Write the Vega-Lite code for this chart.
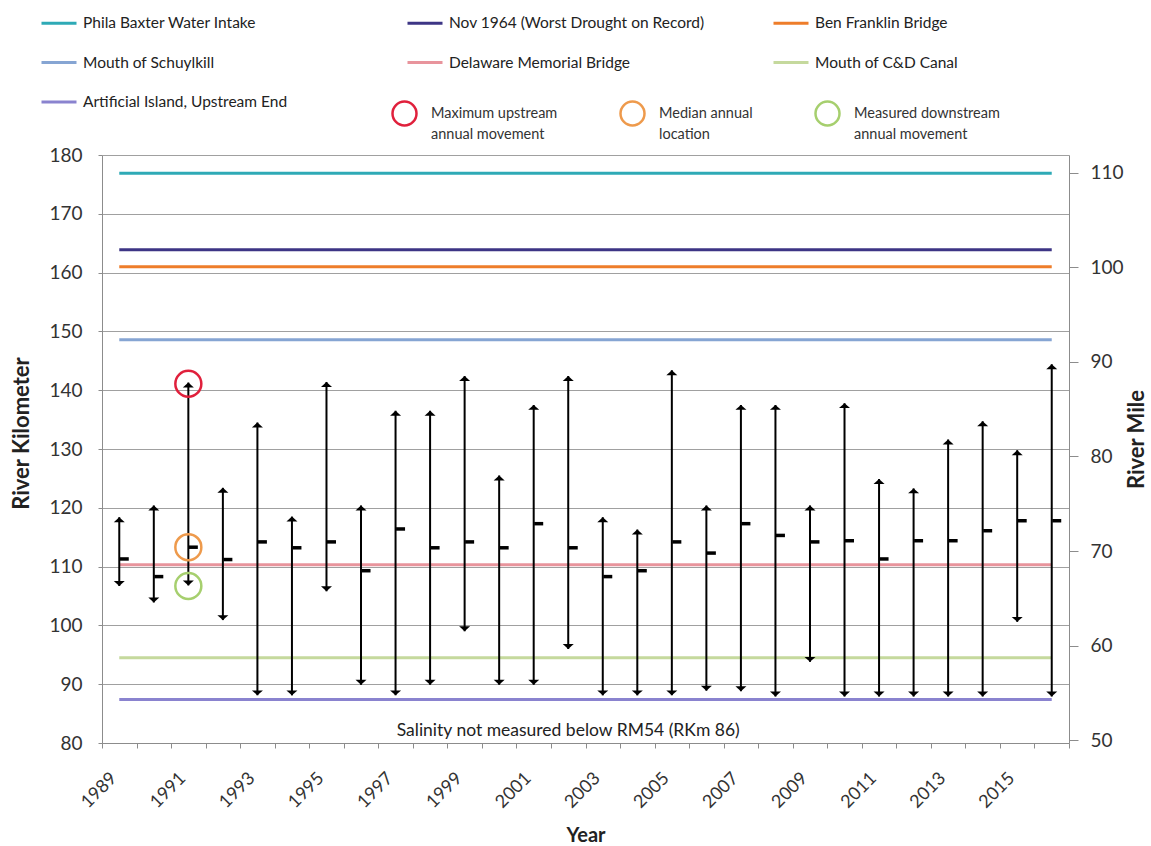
{
  "$schema": "https://vega.github.io/schema/vega-lite/v6.json",
  "width": 967,
  "height": 588,
  "autosize": {"type": "none"},
  "padding": {"left": 102, "top": 155, "right": 82, "bottom": 103},
  "background": "white",
  "config": {
    "font": "Lato",
    "view": {"stroke": null},
    "style": {"guide-label": {"lineHeight": 21}},
    "axis": {
      "labelFont": "Lato",
      "titleFont": "Lato",
      "labelColor": "#333333",
      "titleColor": "#222222",
      "domainColor": "#8c8c8c",
      "tickColor": "#8c8c8c",
      "gridColor": "#a0a0a0",
      "gridOpacity": 1
    },
    "legend": {"labelFont": "Lato"}
  },
  "datasets": {
    "ranges": [
      {"year": 1989, "min": 106.7, "median": 111.3, "max": 118.4},
      {"year": 1990, "min": 103.9, "median": 108.3, "max": 120.4},
      {"year": 1991, "min": 106.8, "median": 113.3, "max": 141.3},
      {"year": 1992, "min": 100.9, "median": 111.2, "max": 123.4},
      {"year": 1993, "min": 88.1, "median": 114.2, "max": 134.5},
      {"year": 1994, "min": 88.1, "median": 113.2, "max": 118.5},
      {"year": 1995, "min": 105.8, "median": 114.2, "max": 141.4},
      {"year": 1996, "min": 89.9, "median": 109.3, "max": 120.4},
      {"year": 1997, "min": 88.1, "median": 116.4, "max": 136.5},
      {"year": 1998, "min": 89.9, "median": 113.2, "max": 136.5},
      {"year": 1999, "min": 99.0, "median": 114.2, "max": 142.4},
      {"year": 2000, "min": 89.9, "median": 113.2, "max": 125.5},
      {"year": 2001, "min": 89.9, "median": 117.3, "max": 137.5},
      {"year": 2002, "min": 96.0, "median": 113.2, "max": 142.4},
      {"year": 2003, "min": 88.1, "median": 108.3, "max": 118.4},
      {"year": 2004, "min": 88.1, "median": 109.3, "max": 116.3},
      {"year": 2005, "min": 88.1, "median": 114.2, "max": 143.4},
      {"year": 2006, "min": 88.9, "median": 112.3, "max": 120.4},
      {"year": 2007, "min": 88.8, "median": 117.3, "max": 137.5},
      {"year": 2008, "min": 87.9, "median": 115.3, "max": 137.5},
      {"year": 2009, "min": 93.8, "median": 114.2, "max": 120.4},
      {"year": 2010, "min": 87.9, "median": 114.4, "max": 137.8},
      {"year": 2011, "min": 87.9, "median": 111.3, "max": 124.9},
      {"year": 2012, "min": 87.9, "median": 114.4, "max": 123.3},
      {"year": 2013, "min": 87.9, "median": 114.4, "max": 131.6},
      {"year": 2014, "min": 87.9, "median": 116.1, "max": 134.7},
      {"year": 2015, "min": 100.6, "median": 117.8, "max": 129.8},
      {"year": 2016, "min": 87.9, "median": 117.8, "max": 144.4}
    ],
    "refs": [
      {"name": "Phila Baxter Water Intake", "year": 1989, "km": 176.9},
      {"name": "Phila Baxter Water Intake", "year": 2016, "km": 176.9},
      {"name": "Nov 1964 (Worst Drought on Record)", "year": 1989, "km": 163.9},
      {"name": "Nov 1964 (Worst Drought on Record)", "year": 2016, "km": 163.9},
      {"name": "Ben Franklin Bridge", "year": 1989, "km": 161.0},
      {"name": "Ben Franklin Bridge", "year": 2016, "km": 161.0},
      {"name": "Mouth of Schuylkill", "year": 1989, "km": 148.6},
      {"name": "Mouth of Schuylkill", "year": 2016, "km": 148.6},
      {"name": "Delaware Memorial Bridge", "year": 1989, "km": 110.3},
      {"name": "Delaware Memorial Bridge", "year": 2016, "km": 110.3},
      {"name": "Mouth of C&D Canal", "year": 1989, "km": 94.5},
      {"name": "Mouth of C&D Canal", "year": 2016, "km": 94.5},
      {"name": "Artificial Island, Upstream End", "year": 1989, "km": 87.4},
      {"name": "Artificial Island, Upstream End", "year": 2016, "km": 87.4}
    ],
    "circles": [
      {"label": "Maximum upstream annual movement", "year": 1991, "km": 141.1},
      {"label": "Median annual location", "year": 1991, "km": 113.3},
      {"label": "Measured downstream annual movement", "year": 1991, "km": 106.7}
    ],
    "notes": [
      {"note": "Salinity not measured below RM54 (RKm 86)", "year": 2002, "km": 82.1}
    ]
  },
  "layer": [
    {
      "layer": [
        {
          "data": {"name": "refs"},
          "mark": {"type": "line", "strokeWidth": 3},
          "encoding": {
            "x": {
              "field": "year", "type": "ordinal", "title": "Year",
              "scale": {"paddingInner": 0, "paddingOuter": 0},
              "axis": {
                "labelAngle": -45,
                "labelExpr": "datum.value % 2 == 1 ? datum.label : ''",
                "tickBand": "extent",
                "grid": false,
                "labelFontSize": 18,
                "labelPadding": 21,
                "labelOffset": -12,
                "tickSize": 5,
                "titleFontSize": 20,
                "titleFontWeight": "bold",
                "titlePadding": 14
              }
            },
            "y": {
              "field": "km", "type": "quantitative", "title": "River Kilometer",
              "scale": {"domain": [80, 180], "nice": false, "zero": false},
              "axis": {
                "values": [80, 90, 100, 110, 120, 130, 140, 150, 160, 170, 180],
                "grid": true,
                "tickSize": 4,
                "labelFontSize": 19,
                "labelPadding": 16,
                "titleFontSize": 22,
                "titleFontWeight": "bold",
                "titlePadding": 15,
                "titleY": 278
              }
            },
            "color": {
              "field": "name", "type": "nominal",
              "scale": {
                "domain": ["Phila Baxter Water Intake", "Nov 1964 (Worst Drought on Record)", "Ben Franklin Bridge", "Mouth of Schuylkill", "Delaware Memorial Bridge", "Mouth of C&D Canal", "Artificial Island, Upstream End"],
                "range": ["#2eaab6", "#3d3585", "#ee7d2a", "#86a5d3", "#e8949c", "#c5d99d", "#8a83cf"]
              },
              "legend": {
                "title": null,
                "orient": "none",
                "legendX": -62,
                "legendY": -151,
                "columns": 3,
                "direction": "horizontal",
                "gridAlign": "all",
                "symbolType": "stroke",
                "symbolSize": 1225,
                "symbolStrokeWidth": 3,
                "labelFontSize": 15.5,
                "labelColor": "#222222",
                "labelOffset": 5,
                "labelLimit": 400,
                "columnPadding": 62,
                "rowPadding": 11.5
              }
            }
          }
        },
        {
          "data": {"name": "ranges"},
          "mark": {"type": "rule", "strokeWidth": 2, "color": "black"},
          "encoding": {
            "x": {"field": "year", "type": "ordinal", "title": "Year", "scale": {"paddingInner": 0, "paddingOuter": 0}},
            "y": {"field": "min", "type": "quantitative", "title": "River Kilometer", "scale": {"domain": [80, 180], "nice": false, "zero": false}},
            "y2": {"field": "max"}
          }
        },
        {
          "data": {"name": "ranges"},
          "mark": {"type": "point", "shape": "M0,0L1,0.9L-1,0.9Z", "filled": true, "color": "black", "opacity": 1, "size": 121},
          "encoding": {
            "x": {"field": "year", "type": "ordinal", "title": "Year", "scale": {"paddingInner": 0, "paddingOuter": 0}},
            "y": {"field": "max", "type": "quantitative", "title": "River Kilometer", "scale": {"domain": [80, 180], "nice": false, "zero": false}}
          }
        },
        {
          "data": {"name": "ranges"},
          "mark": {"type": "point", "shape": "M0,0L1,-0.9L-1,-0.9Z", "filled": true, "color": "black", "opacity": 1, "size": 121},
          "encoding": {
            "x": {"field": "year", "type": "ordinal", "title": "Year", "scale": {"paddingInner": 0, "paddingOuter": 0}},
            "y": {"field": "min", "type": "quantitative", "title": "River Kilometer", "scale": {"domain": [80, 180], "nice": false, "zero": false}}
          }
        },
        {
          "data": {"name": "ranges"},
          "mark": {"type": "tick", "color": "black", "size": 9, "thickness": 3.5, "xOffset": 5, "opacity": 1},
          "encoding": {
            "x": {"field": "year", "type": "ordinal", "title": "Year", "scale": {"paddingInner": 0, "paddingOuter": 0}},
            "y": {"field": "median", "type": "quantitative", "title": "River Kilometer", "scale": {"domain": [80, 180], "nice": false, "zero": false}}
          }
        },
        {
          "data": {"name": "circles"},
          "mark": {"type": "point", "shape": "circle", "filled": false, "strokeWidth": 2.5, "size": 676, "opacity": 1},
          "encoding": {
            "x": {"field": "year", "type": "ordinal", "title": "Year", "scale": {"paddingInner": 0, "paddingOuter": 0}},
            "y": {"field": "km", "type": "quantitative", "title": "River Kilometer", "scale": {"domain": [80, 180], "nice": false, "zero": false}},
            "stroke": {
              "field": "label", "type": "nominal",
              "scale": {
                "domain": ["Maximum upstream annual movement", "Median annual location", "Measured downstream annual movement"],
                "range": ["#e0203c", "#ee9a4c", "#a6cf6e"]
              },
              "legend": {
                "title": null,
                "orient": "none",
                "legendX": 289,
                "legendY": -55,
                "columns": 3,
                "direction": "horizontal",
                "gridAlign": "each",
                "symbolType": "circle",
                "symbolSize": 576,
                "symbolStrokeWidth": 2.5,
                "symbolFillColor": "transparent",
                "labelFontSize": 14.5,
                "labelColor": "#333333",
                "labelOffset": 13,
                "labelLimit": 300,
                "columnPadding": 57,
                "labelExpr": "datum.label == 'Maximum upstream annual movement' ? ['Maximum upstream', 'annual movement'] : datum.label == 'Median annual location' ? ['Median annual', 'location'] : ['Measured downstream', 'annual movement']",
                "encode": {"labels": {"update": {"lineHeight": {"value": 21}}}}
              }
            }
          }
        },
        {
          "data": {"name": "notes"},
          "mark": {"type": "text", "fontSize": 17.5, "color": "#222222", "baseline": "middle", "align": "center"},
          "encoding": {
            "x": {"field": "year", "type": "ordinal", "title": "Year", "scale": {"paddingInner": 0, "paddingOuter": 0}},
            "y": {"field": "km", "type": "quantitative", "title": "River Kilometer", "scale": {"domain": [80, 180], "nice": false, "zero": false}},
            "text": {"field": "note"}
          }
        }
      ]
    },
    {
      "data": {"values": [{}]},
      "mark": {"type": "rule", "opacity": 0},
      "encoding": {
        "y": {
          "datum": 50, "type": "quantitative",
          "scale": {"domain": [49.71, 111.85], "nice": false, "zero": false},
          "axis": {
            "orient": "right",
            "values": [50, 60, 70, 80, 90, 100, 110],
            "grid": false,
            "title": "River Mile",
            "titleAngle": 270,
            "titleBaseline": "top",
            "titleFontSize": 22,
            "titleFontWeight": "bold",
            "titlePadding": 3,
            "titleY": 284,
            "tickSize": 9,
            "labelFontSize": 19,
            "labelPadding": 12
          }
        }
      }
    }
  ],
  "resolve": {"scale": {"y": "independent"}}
}
